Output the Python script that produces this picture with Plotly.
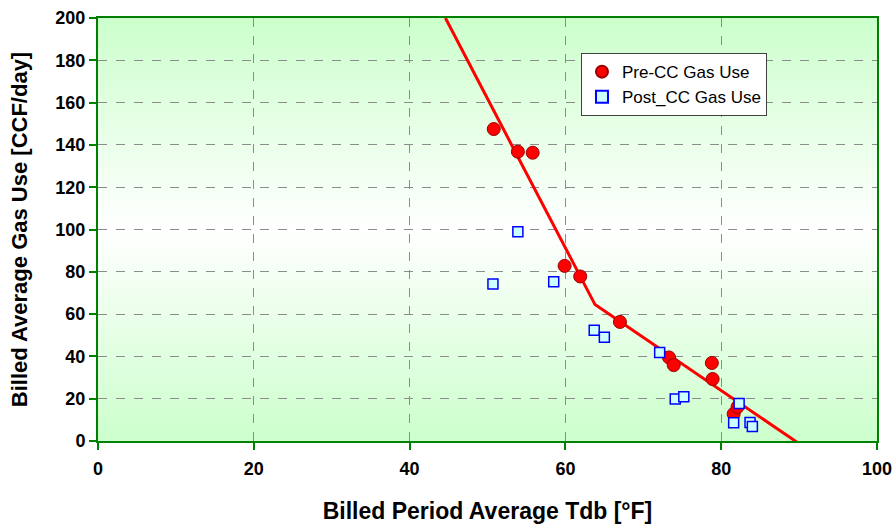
import base64
import plotly.graph_objects as go

pre_x = [50.8, 53.9, 55.8, 59.9, 61.9, 67.0, 73.3, 73.9, 78.8, 78.9, 81.6, 82.1]
pre_y = [147.5, 136.8, 136.3, 82.8, 77.8, 56.3, 39.5, 35.9, 36.9, 29.3, 12.8, 16.1]

post_x = [50.7, 53.9, 58.5, 63.7, 65.0, 72.1, 74.1, 75.2, 82.3, 81.6, 83.7, 84.0]
post_y = [74.2, 98.9, 75.3, 52.4, 49.1, 41.9, 19.9, 20.9, 17.7, 8.6, 8.7, 6.9]

fit_x = [44.6, 63.8, 90.5]
fit_y = [200.0, 64.5, -2.5]

x_ticks = [0, 20, 40, 60, 80, 100]
y_ticks = [0, 20, 40, 60, 80, 100, 120, 140, 160, 180, 200]

FONT = "Arial, 'Liberation Sans', sans-serif"
GREEN = "#008000"

svg = (
    '<svg xmlns="http://www.w3.org/2000/svg" width="100" height="100" preserveAspectRatio="none">'
    '<defs><linearGradient id="g" x1="0" y1="0" x2="0" y2="1">'
    '<stop offset="0" stop-color="#ccffcc"/>'
    '<stop offset="0.5" stop-color="#ffffff"/>'
    '<stop offset="1" stop-color="#ccffcc"/>'
    '</linearGradient></defs>'
    '<rect width="100" height="100" fill="url(#g)"/></svg>'
)
svg_uri = "data:image/svg+xml;base64," + base64.b64encode(svg.encode()).decode()

fig = go.Figure()

fig.add_trace(go.Scatter(
    x=fit_x, y=fit_y, mode="lines",
    line=dict(color="#ff0000", width=3), showlegend=False, hoverinfo="skip"))

fig.add_trace(go.Scatter(
    x=pre_x, y=pre_y, mode="markers", name="Pre-CC Gas Use",
    marker=dict(symbol="circle", size=13, color="#ff0000",
                line=dict(color="#990000", width=1))))

fig.add_trace(go.Scatter(
    x=post_x, y=post_y, mode="markers", name="Post_CC Gas Use",
    marker=dict(symbol="square", size=10, color="#ccffff",
                line=dict(color="#0000ff", width=1.5))))

fig.add_layout_image(dict(
    source=svg_uri, xref="x", yref="y", x=0, y=200, sizex=100, sizey=200,
    sizing="stretch", layer="below", xanchor="left", yanchor="top"))

fig.update_layout(
    width=895, height=525,
    margin=dict(l=98, r=18, t=18, b=84, autoexpand=False),
    paper_bgcolor="white", plot_bgcolor="white",
    font=dict(family=FONT, color="black"),
    legend=dict(x=0.62, y=0.917, xanchor="left", yanchor="top",
                bgcolor="white", bordercolor="#404040", borderwidth=1,
                font=dict(size=17, family=FONT), itemsizing="constant",
                tracegroupgap=0),
    xaxis=dict(range=[0, 100], tickvals=x_ticks, ticks="outside", ticklen=7,
               tickcolor=GREEN, tickwidth=2, showline=True, linecolor=GREEN,
               linewidth=2, mirror=True, showgrid=True, gridcolor="#8c8c8c",
               griddash="dash", gridwidth=1, zeroline=False, automargin=False,
               ticklabelstandoff=3,
               tickfont=dict(size=18, family=FONT, weight="bold"),
               title=dict(text="Billed Period Average Tdb [°F]", standoff=25,
                          font=dict(size=23, family=FONT, weight="bold"))),
    yaxis=dict(range=[0, 200], tickvals=y_ticks, ticks="outside", ticklen=7,
               tickcolor=GREEN, tickwidth=2, showline=True, linecolor=GREEN,
               linewidth=2, mirror=True, showgrid=True, gridcolor="#8c8c8c",
               griddash="dash", gridwidth=1, zeroline=False, automargin=False,
               tickfont=dict(size=18, family=FONT, weight="bold"),
               title=dict(text="Billed Average Gas Use [CCF/day]", standoff=22,
                          font=dict(size=22, family=FONT, weight="bold"))),
)

fig.write_html("out.html", config={"displayModeBar": False},
               post_script="document.body.style.margin='0';")
